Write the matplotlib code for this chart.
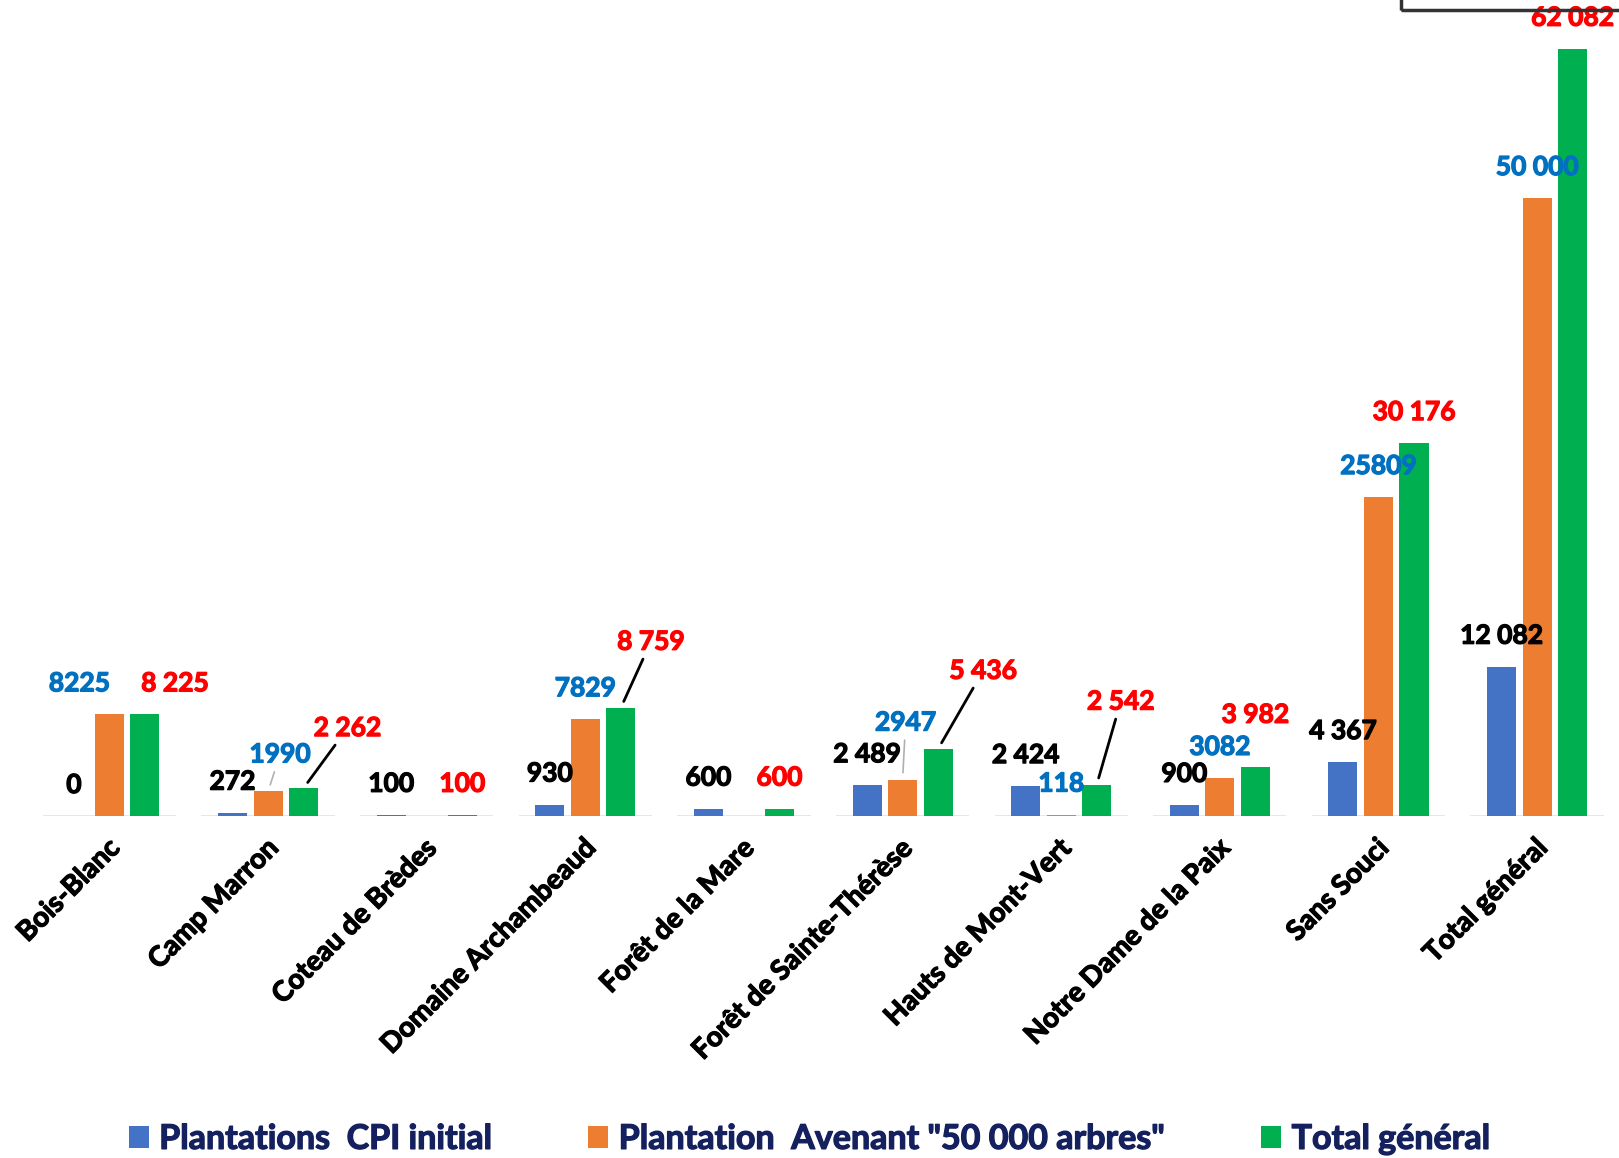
import matplotlib
matplotlib.use("Agg")
import matplotlib.pyplot as plt
import matplotlib.transforms as mtransforms
import matplotlib.patheffects as pe
from matplotlib.patches import Rectangle
import numpy as np

plt.rcParams["font.family"] = ["Lato", "DejaVu Sans"]
plt.rcParams["font.weight"] = "bold"

categories = ["Bois-Blanc", "Camp Marron", "Coteau de Brèdes", "Domaine Archambeaud",
              "Forêt de la Mare", "Forêt de Sainte-Thérèse", "Hauts de Mont-Vert",
              "Notre Dame de la Paix", "Sans Souci", "Total général"]
cpi_initial = [0, 272, 100, 930, 600, 2489, 2424, 900, 4367, 12082]
avenant = [8225, 1990, 0, 7829, 0, 2947, 118, 3082, 25809, 50000]
total = [8225, 2262, 100, 8759, 600, 5436, 2542, 3982, 30176, 62082]

series_names = ["Plantations  CPI initial", 'Plantation  Avenant "50 000 arbres"', "Total général"]
bar_colors = ["#4472C4", "#ED7D31", "#00B050"]
label_colors = ["black", "#0070C0", "#FF0000"]

# label text per series (None = no label)
labels_cpi = ["0", "272", "100", "930", "600", "2 489", "2 424", "900", "4 367", "12 082"]
labels_av = ["8225", "1990", None, "7829", None, "2947", "118", "3082", "25809", "50 000"]
labels_tot = ["8 225", "2 262", "100", "8 759", "600", "5 436", "2 542", "3 982", "30 176", "62 082"]

# moved data labels: (series, group) -> (dx, dy) in pixels, leader line colour
moved = {
    (1, 0): (-30, 31, None),
    (2, 0): (30, 31, None),
    (1, 1): (12, 37, "#b0b0b0"),
    (2, 1): (44, 60, "black"),
    (2, 3): (30, 66, "black"),
    (1, 5): (3, 57, "#b0b0b0"),
    (2, 5): (45, 78, "black"),
    (2, 6): (24, 83, "black"),
    (2, 7): (0, 52, None),
}


def heavy(color):
    # thicken the glyphs a bit, Lato bold is lighter than the original font
    return [pe.withStroke(linewidth=0.9, foreground=color)]


def main():
    fig = plt.figure(figsize=(16.19, 11.58), dpi=100)
    ax = fig.add_axes([0.0186, 0.2953, 0.9798, 0.7047])

    x = np.arange(len(categories))
    off = 0.224
    w = 0.183
    values = [cpi_initial, avenant, total]
    texts = [labels_cpi, labels_av, labels_tot]

    bars = []
    for s in range(3):
        b = ax.bar(x + (s - 1) * off, values[s], w, color=bar_colors[s], label=series_names[s])
        bars.append(b)

    for g in x:
        ax.hlines(0, g - 0.42, g + 0.42, color="#e3e3e3", lw=1.2, zorder=0)

    for s in range(3):
        for g in range(len(categories)):
            t = texts[s][g]
            if t is None:
                continue
            dx, dy, lc = moved.get((s, g), (0, 31, None))
            kw = {}
            if lc is not None:
                kw["arrowprops"] = dict(arrowstyle="-", color=lc, lw=2 if lc == "black" else 1.2,
                                        shrinkA=2, shrinkB=5)
            a = ax.annotate(t, xy=(g + (s - 1) * off, values[s][g]), xytext=(dx, dy),
                            textcoords="offset pixels", ha="center", va="center",
                            fontsize=19, fontweight="bold", color=label_colors[s], **kw)
            a.set_path_effects(heavy(label_colors[s]))

    ax.set_xlim(-0.5, 9.5)
    ax.set_ylim(0, 66030)
    ax.set_yticks([])
    ax.set_xticks(x)
    ax.set_xticklabels(categories, rotation=45, ha="right", va="center",
                       rotation_mode="anchor", fontsize=20, fontweight="bold")
    ax.tick_params(axis="x", length=0, pad=20)
    shift = mtransforms.ScaledTranslation(6 / 100, 0, fig.dpi_scale_trans)
    for lab in ax.get_xticklabels():
        lab.set_transform(lab.get_transform() + shift)
        lab.set_path_effects(heavy("black"))
    for sp in ax.spines.values():
        sp.set_visible(False)

    leg = fig.legend(handles=bars, labels=series_names, loc="center",
                     bbox_to_anchor=(0.5, 0.0165), ncol=3, frameon=False,
                     fontsize=24.5, handlelength=0.6, handleheight=0.6,
                     handletextpad=0.3, columnspacing=2.8)
    for t in leg.get_texts():
        t.set_color("#14215e")
        t.set_fontweight("bold")
        t.set_path_effects(heavy("#14215e"))

    # piece of a box cut off at the top right
    fig.patches.append(Rectangle((0.8654, 0.9914), 0.2, 0.1, transform=fig.transFigure,
                                 fill=False, edgecolor="#333333", lw=2.5))

    fig.savefig("out.png", dpi=100)


main()
